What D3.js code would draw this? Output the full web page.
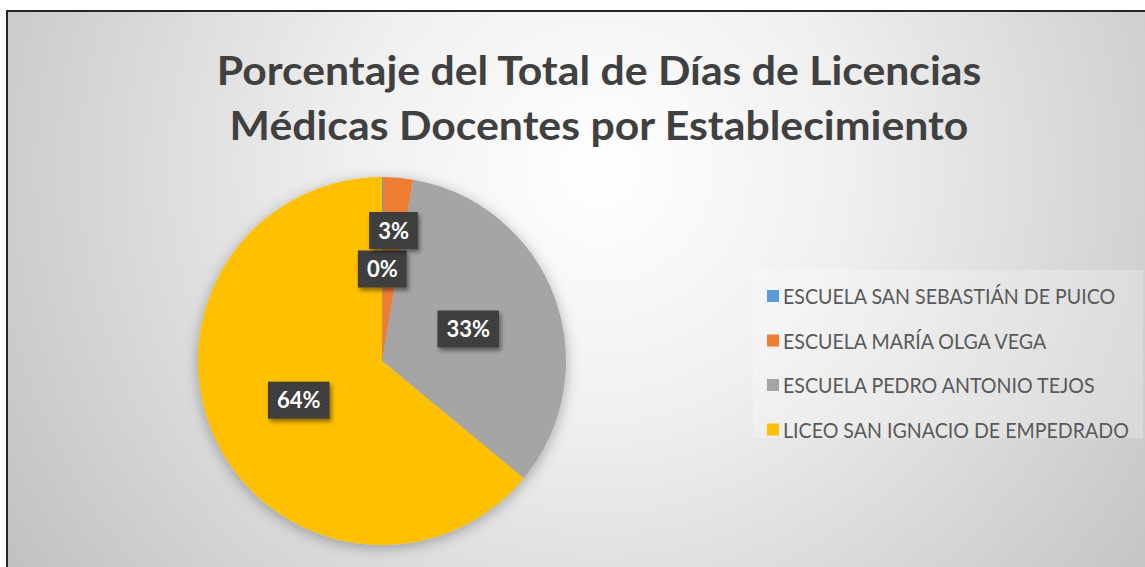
<!DOCTYPE html>
<html>
<head>
<meta charset="utf-8">
<script src="https://cdn.jsdelivr.net/npm/d3@7"></script>
<style>
  body { margin: 0; background: #ffffff; }
  #chart { width: 1145px; height: 567px; overflow: hidden; }
</style>
</head>
<body>
<div id="chart"></div>
<script>
// data (percent of total days)
const categories = [
  'ESCUELA SAN SEBASTIÁN DE PUICO',
  'ESCUELA MARÍA OLGA VEGA',
  'ESCUELA PEDRO ANTONIO TEJOS',
  'LICEO SAN IGNACIO DE EMPEDRADO'
];
const values = [0.1, 2.6, 33.3, 64.0];
const titleLines = [
  'Porcentaje del Total de Días de Licencias',
  'Médicas Docentes por Establecimiento'
];

const colors = ['#5b9bd5', '#ed7d31', '#a5a5a5', '#ffc000'];

const width = 1145;
const height = 567;

const svg = d3
  .select('#chart')
  .append('svg')
  .attr('width', width)
  .attr('height', height);

const defs = svg.append('defs');

// background gradient, white in the upper middle, grey at the edges
const bg = defs
  .append('radialGradient')
  .attr('id', 'bg')
  .attr('gradientUnits', 'userSpaceOnUse')
  .attr('cx', 600)
  .attr('cy', 170)
  .attr('r', 700);
bg.append('stop').attr('offset', '0%').attr('stop-color', '#ffffff');
bg.append('stop').attr('offset', '35%').attr('stop-color', '#f0f0f0');
bg.append('stop').attr('offset', '100%').attr('stop-color', '#c2c2c2');

const pieShadow = defs
  .append('filter')
  .attr('id', 'pieShadow')
  .attr('x', '-20%')
  .attr('y', '-20%')
  .attr('width', '140%')
  .attr('height', '140%');
pieShadow
  .append('feDropShadow')
  .attr('dx', 0)
  .attr('dy', 3)
  .attr('stdDeviation', 7)
  .attr('flood-color', '#000')
  .attr('flood-opacity', 0.3);

const boxShadow = defs
  .append('filter')
  .attr('id', 'boxShadow')
  .attr('x', '-30%')
  .attr('y', '-30%')
  .attr('width', '160%')
  .attr('height', '160%');
boxShadow
  .append('feDropShadow')
  .attr('dx', 2)
  .attr('dy', 3)
  .attr('stdDeviation', 2)
  .attr('flood-color', '#000')
  .attr('flood-opacity', 0.45);

// dotted texture of the label boxes
const dots = defs
  .append('pattern')
  .attr('id', 'dots')
  .attr('width', 4)
  .attr('height', 4)
  .attr('patternUnits', 'userSpaceOnUse');
dots.append('rect').attr('width', 4).attr('height', 4).attr('fill', '#3b3b3b');
dots.append('circle').attr('cx', 1).attr('cy', 1).attr('r', 0.8).attr('fill', '#4d4d4d');
dots.append('circle').attr('cx', 3).attr('cy', 3).attr('r', 0.8).attr('fill', '#4d4d4d');

// chart area with border (cropped on right and bottom)
svg
  .append('rect')
  .attr('x', 7)
  .attr('y', 11)
  .attr('width', 1200)
  .attr('height', 600)
  .attr('fill', 'url(#bg)')
  .attr('stroke', '#262626')
  .attr('stroke-width', 2);

// title
const title = svg
  .append('g')
  .style('font-family', 'Lato, "Open Sans", sans-serif')
  .style('font-weight', 'bold')
  .style('font-size', '40px')
  .style('fill', '#404040');

const titleY = [85, 140];
const titleW = [765, 739];
titleLines.forEach((t, i) => {
  const txt = title
    .append('text')
    .text(t)
    .attr('text-anchor', 'middle');
  const w = txt.node().getComputedTextLength();
  const sx = titleW[i] / w;
  txt.attr('transform', 'translate(599,' + titleY[i] + ') scale(' + sx + ',1)');
});

// pie
const cx = 382;
const cy = 361;
const radius = 184;

const pie = d3.pie().sort(null).value(d => d);
const arcs = pie(values);
const arc = d3.arc().innerRadius(0).outerRadius(radius);

const g = svg.append('g').attr('transform', 'translate(' + cx + ',' + cy + ')');

g.append('g')
  .attr('filter', 'url(#pieShadow)')
  .selectAll('path')
  .data(arcs)
  .join('path')
  .attr('d', arc)
  .attr('fill', (d, i) => colors[i]);

// data labels at half radius, pushed outward when they overlap
const fmt = d3.format('.0%');
const labelG = g
  .append('g')
  .style('font-family', 'Lato, "Open Sans", sans-serif')
  .style('font-weight', 'bold')
  .style('font-size', '22px');

const placed = [];
arcs.forEach((d, i) => {
  const a = (d.startAngle + d.endAngle) / 2;
  const txt = labelG.append('text').text(fmt(values[i] / d3.sum(values)));
  const tw = txt.node().getComputedTextLength();
  const bw = tw + 18;
  const bh = 37;
  let r = radius * 0.5;
  let x, y;
  const overlaps = () =>
    placed.some(p => Math.abs(p.x - x) < (p.w + bw) / 2 && Math.abs(p.y - y) < (p.h + bh) / 2 + 1);
  for (let k = 0; k < 200; k++) {
    x = Math.sin(a) * r;
    y = -Math.cos(a) * r;
    if (!overlaps()) break;
    r += 1;
  }
  placed.push({ x: x, y: y, w: bw, h: bh });
  labelG
    .insert('rect', 'text:last-child')
    .attr('x', x - bw / 2)
    .attr('y', y - bh / 2)
    .attr('width', bw)
    .attr('height', bh)
    .attr('fill', 'url(#dots)')
    .attr('filter', 'url(#boxShadow)');
  txt
    .attr('x', x)
    .attr('y', y + 8)
    .attr('text-anchor', 'middle')
    .style('fill', '#ffffff');
});

// legend
svg
  .append('rect')
  .attr('x', 753)
  .attr('y', 270)
  .attr('width', 390)
  .attr('height', 168)
  .attr('fill', '#ffffff')
  .attr('opacity', 0.25);

const legend = svg
  .append('g')
  .style('font-family', 'Lato, "Open Sans", sans-serif')
  .style('font-size', '22px')
  .style('fill', '#595959');

const legendY = d3.scalePoint().domain(categories).range([296, 429.5]);

legend
  .selectAll('rect')
  .data(categories)
  .join('rect')
  .attr('x', 767)
  .attr('y', d => legendY(d) - 6)
  .attr('width', 12)
  .attr('height', 12)
  .attr('fill', (d, i) => colors[i]);

const legendText = legend
  .selectAll('text')
  .data(categories)
  .join('text')
  .text(d => d);

const longest = d3.max(legendText.nodes(), n => n.getComputedTextLength());
const lsx = 346 / longest;
legendText.attr('transform', d => 'translate(783,' + (legendY(d) + 8) + ') scale(' + lsx + ',1)');
</script>
</body>
</html>
